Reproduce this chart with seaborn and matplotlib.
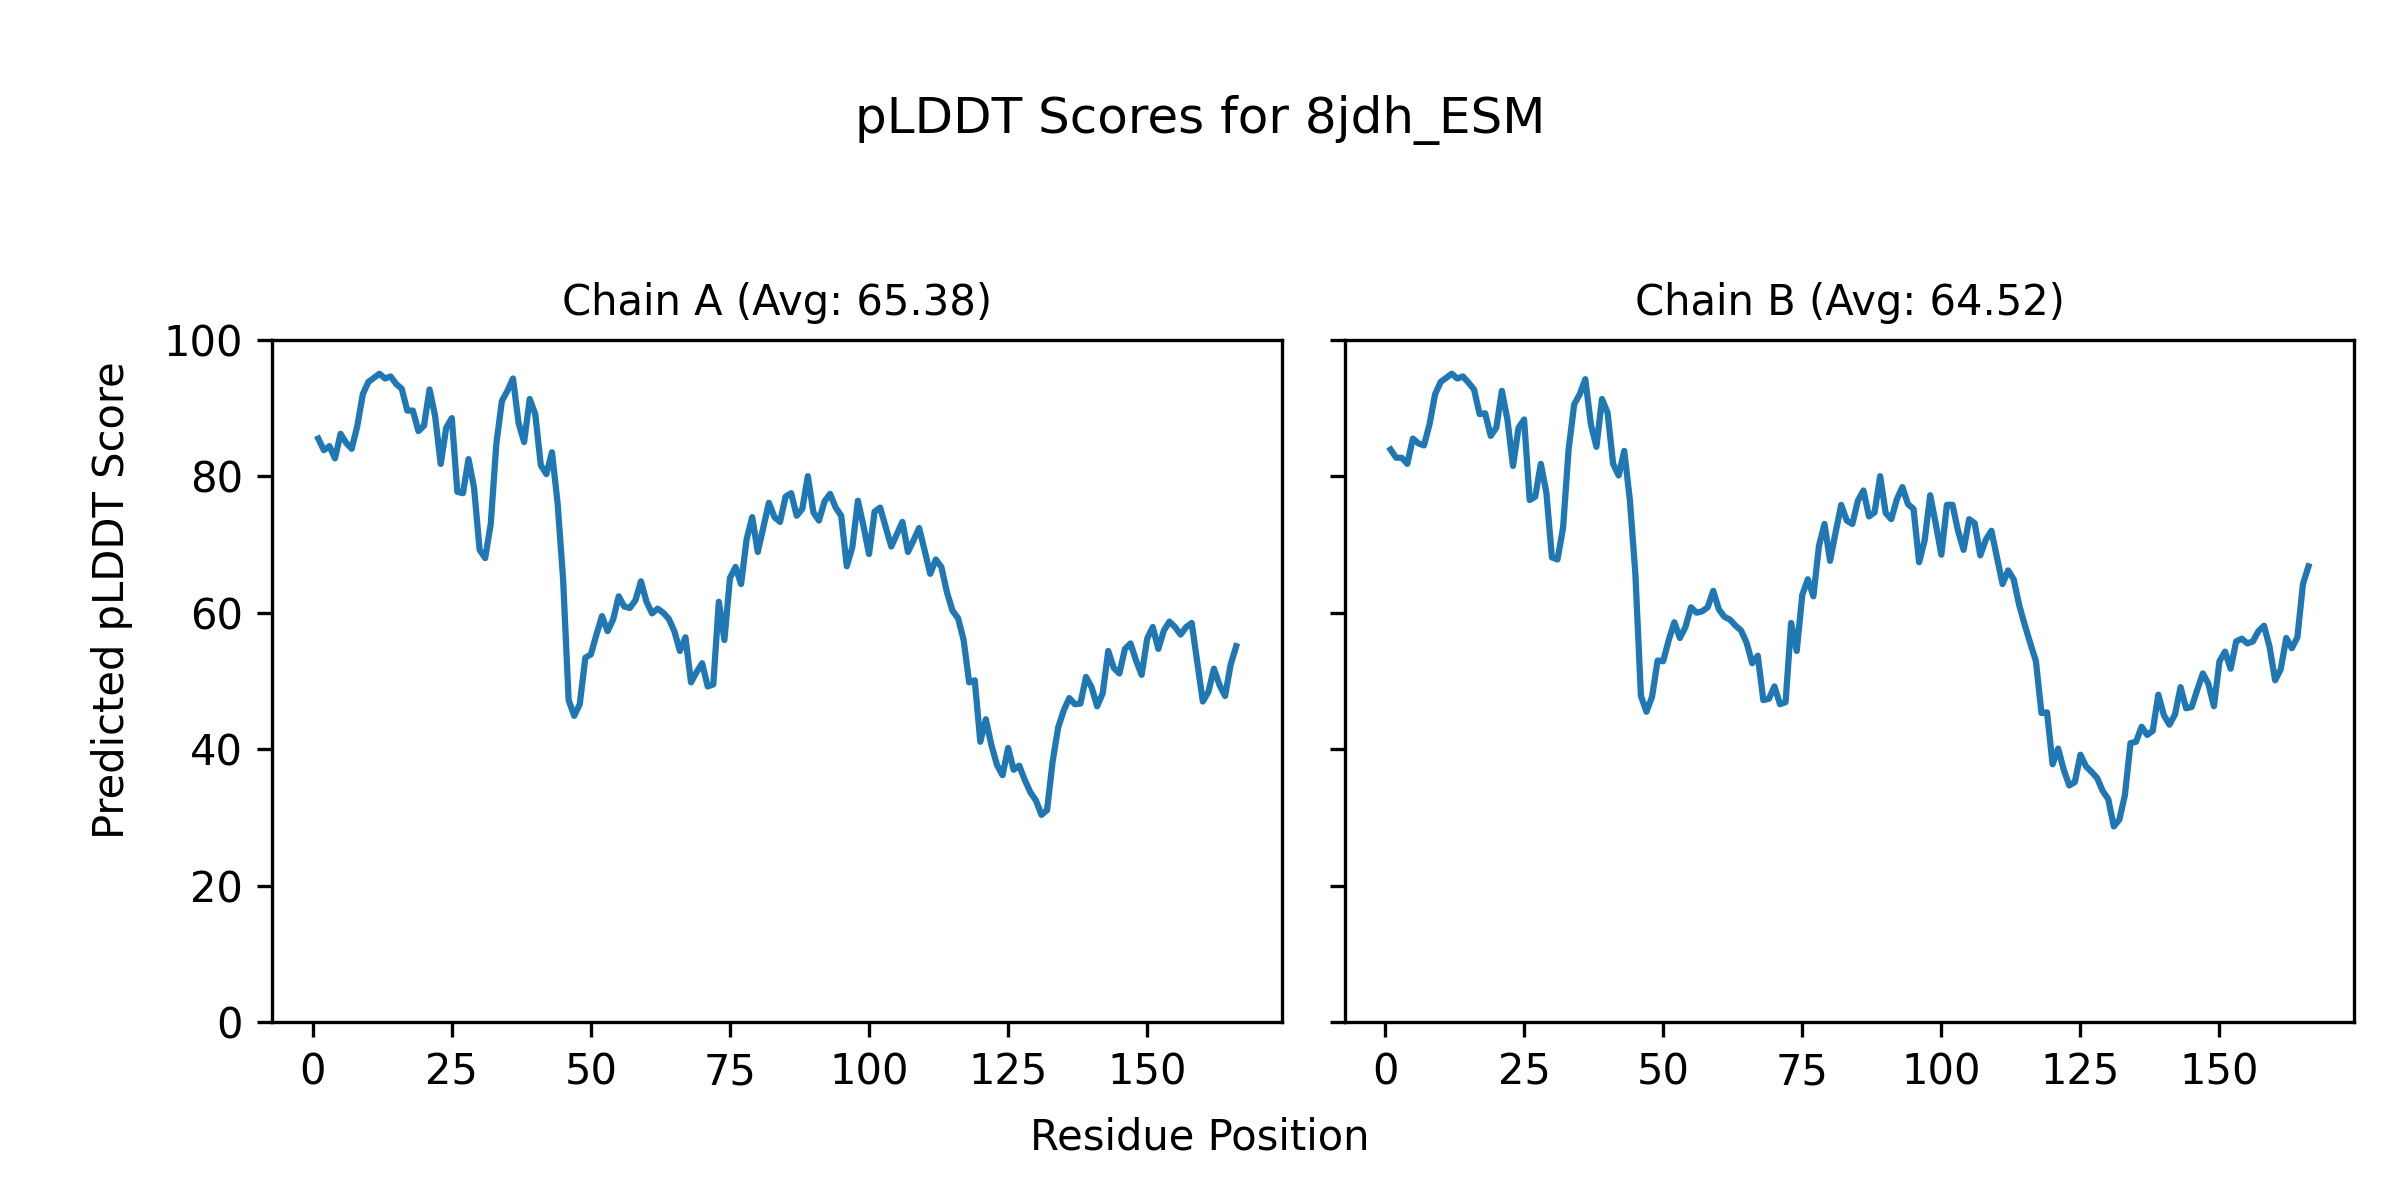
import matplotlib
matplotlib.use('Agg')
import matplotlib.pyplot as plt
import numpy as np
import seaborn as sns

# Posicoes dos residuos (1..166)
residues = np.arange(1, 167)

# pLDDT por residuo, cadeia A
chain_a = [
    85.5, 83.8, 84.4, 82.6, 86.2, 84.9, 84.0, 87.3, 92.0, 93.8,
    94.4, 95.0, 94.3, 94.6, 93.5, 92.8, 89.6, 89.6, 86.6, 87.4,
    92.7, 88.8, 81.8, 87.1, 88.5, 77.7, 77.5, 82.5, 78.3, 69.2,
    68.0, 73.0, 84.7, 91.0, 92.5, 94.3, 87.8, 85.0, 91.3, 89.1,
    81.6, 80.3, 83.5, 76.2, 65.0, 47.2, 44.9, 46.6, 53.4, 53.9,
    56.8, 59.5, 57.3, 59.0, 62.4, 60.9, 60.7, 61.8, 64.6, 61.6,
    59.9, 60.6, 60.0, 59.1, 57.3, 54.4, 56.4, 49.8, 51.3, 52.6,
    49.2, 49.5, 61.6, 56.0, 65.1, 66.7, 64.2, 70.8, 74.0, 68.9,
    72.5, 76.1, 74.0, 73.3, 77.0, 77.5, 74.2, 75.2, 80.0, 74.7,
    73.5, 76.3, 77.4, 75.4, 74.2, 66.8, 69.6, 76.4, 72.7, 68.6,
    74.8, 75.4, 72.5, 69.7, 71.5, 73.3, 68.9, 70.6, 72.4, 69.1,
    65.7, 67.8, 66.7, 63.0, 60.3, 59.2, 56.0, 49.8, 50.1, 41.1,
    44.4, 40.6, 37.7, 36.2, 40.2, 37.0, 37.6, 35.5, 33.7, 32.5,
    30.4, 31.1, 38.2, 43.2, 45.7, 47.5, 46.6, 46.7, 50.6, 49.1,
    46.3, 48.2, 54.4, 51.9, 51.1, 54.7, 55.5, 53.0, 50.9, 56.2,
    57.9, 54.7, 57.4, 58.7, 57.9, 56.8, 57.9, 58.5, 52.8, 47.0,
    48.4, 51.8, 49.4, 47.8, 52.4, 55.1,
]

# pLDDT por residuo, cadeia B
chain_b = [
    83.9, 82.7, 82.7, 81.8, 85.5, 84.8, 84.5, 87.6, 92.0, 93.8,
    94.4, 95.0, 94.3, 94.6, 93.7, 92.7, 89.1, 89.2, 85.9, 87.1,
    92.5, 88.3, 81.5, 87.1, 88.3, 76.5, 77.0, 81.8, 77.6, 68.1,
    67.8, 72.4, 83.9, 90.5, 92.0, 94.2, 87.6, 84.3, 91.3, 89.3,
    81.8, 80.1, 83.7, 76.6, 65.7, 47.8, 45.5, 47.7, 53.0, 52.9,
    56.0, 58.6, 56.3, 57.9, 60.8, 60.0, 60.2, 60.8, 63.2, 60.5,
    59.4, 59.0, 58.1, 57.4, 55.6, 52.6, 53.7, 47.2, 47.4, 49.2,
    46.6, 46.9, 58.5, 54.4, 62.6, 64.9, 62.4, 69.8, 73.0, 67.6,
    71.8, 75.8, 73.5, 73.0, 76.4, 77.9, 74.1, 74.7, 80.0, 74.6,
    73.7, 76.6, 78.4, 75.9, 75.2, 67.4, 70.6, 77.2, 73.0, 68.5,
    75.8, 75.8, 72.0, 69.2, 73.7, 73.1, 68.4, 70.7, 72.0, 68.1,
    64.2, 66.2, 64.9, 61.1, 58.2, 55.5, 52.9, 45.3, 45.4, 37.8,
    40.1, 37.0, 34.7, 35.2, 39.2, 37.5, 36.7, 35.8, 33.9, 32.7,
    28.7, 29.7, 33.3, 40.9, 41.1, 43.3, 42.1, 42.7, 48.0, 45.0,
    43.6, 45.1, 49.1, 46.0, 46.2, 48.7, 51.1, 49.6, 46.3, 52.9,
    54.3, 51.8, 55.8, 56.2, 55.5, 55.8, 57.3, 58.1, 55.0, 50.1,
    51.7, 56.3, 54.8, 56.4, 64.2, 66.8,
]

chain_names = ['A', 'B']
chain_avgs = ['65.38', '64.52']

fig, axes = plt.subplots(1, 2, figsize=(8, 4), sharey=True)

for ax, name, avg, scores in zip(axes, chain_names, chain_avgs, [chain_a, chain_b]):
    sns.lineplot(x=residues, y=scores, ax=ax, color='#1f77b4', linewidth=1.5)
    ax.set_title(f'Chain {name} (Avg: {avg})', fontsize=10)
    ax.set_xlabel('')
    ax.set_ylabel('')
    ax.set_ylim(0, 100)
    ax.set_xticks([0, 25, 50, 75, 100, 125, 150])

fig.suptitle('pLDDT Scores for 8jdh_ESM', fontsize=12, y=0.9, va='center')
fig.supxlabel('Residue Position', fontsize=10, y=0.052, va='center')
fig.supylabel('Predicted pLDDT Score', fontsize=10, x=0.0466, ha='center')

plt.subplots_adjust(left=0.1135, right=0.981, bottom=0.148, top=0.717, wspace=0.062)

fig.savefig('out.png', dpi=300)
